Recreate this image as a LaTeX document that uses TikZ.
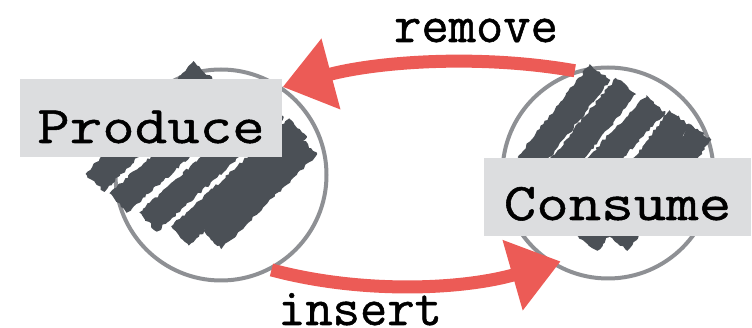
\documentclass[tikz,border=0pt]{standalone}
\usepackage{fontspec}
\usetikzlibrary{arrows.meta,calc,decorations.pathmorphing}
\newfontfamily\tagfont[FakeBold=1]{Latin Modern Mono}
\newfontfamily\boxfont[FakeStretch=1.19,FakeBold=1]{Latin Modern Mono}
\definecolor{chalkred}{HTML}{EC5B56}
\definecolor{slate}{HTML}{4B5056}
\definecolor{ring}{HTML}{8E9094}
\definecolor{tagbg}{HTML}{DCDDDF}

% one rough chalk band from #1 to #2, 26pt wide
\newcommand\hatchstrip[2]{%
  \fill[slate, decorate, decoration={random steps,segment length=3pt,amplitude=1.4pt}]
    ($#1!13pt!90:#2$) -- ($#2!13pt!-90:#1$) -- ($#2!13pt!90:#1$) -- ($#1!13pt!-90:#2$) -- cycle;}

\tikzset{
  ringnode/.style={circle, draw=ring, line width=4pt, minimum size=211pt, inner sep=0pt},
  tagbox/.style={fill=tagbg, inner sep=0pt, font=\boxfont\fontsize{53}{60}\selectfont},
  tagword/.style={inner sep=0pt, font=\tagfont\fontsize{53}{60}\selectfont},
  flow/.style={chalkred, line width=13pt, looseness=0.85,
    -{Triangle[length=50pt,width=70pt]}},
}

\begin{document}
\begin{tikzpicture}[x=1pt, y=-1pt]
\pgfmathsetseed{7}
\useasboundingbox (0,0) rectangle (752,328);

% the two stations
\node[ringnode] (prod) at (221,175) {};
\node[ringnode] (cons) at (608,173) {};

% chalk hatching inside the producer
\hatchstrip{(95,183)}{(203,70)}
\hatchstrip{(118,203)}{(245,92)}
\hatchstrip{(148,222)}{(275,108)}
\hatchstrip{(180,236)}{(298,128)}
\hatchstrip{(212,240)}{(308,145)}

% chalk hatching inside the consumer
\hatchstrip{(528,165)}{(600,72)}
\hatchstrip{(542,190)}{(626,86)}
\hatchstrip{(565,200)}{(656,104)}
\hatchstrip{(587,243)}{(680,118)}
\hatchstrip{(617,243)}{(701,132)}

% flows between the stations
\draw[flow] (cons.108) to[out=170, in=15] (prod.55);
\draw[flow, shorten >=-10pt] (prod.-62) to[out=-15, in=196] (cons.238);

% captions
\node[tagbox, minimum width=262pt, text height=64pt, text depth=14pt] (prodtag) at (151,118) {Produce};
\node[tagbox, minimum width=267pt, text height=62pt, text depth=16pt] (constag) at (617.5,197) {Consume};
\node[tagword, anchor=base] (rmtxt) at (476,42) {remove};
\node[tagword, anchor=base] (intxt) at (360,325) {insert};
\end{tikzpicture}
\end{document}
